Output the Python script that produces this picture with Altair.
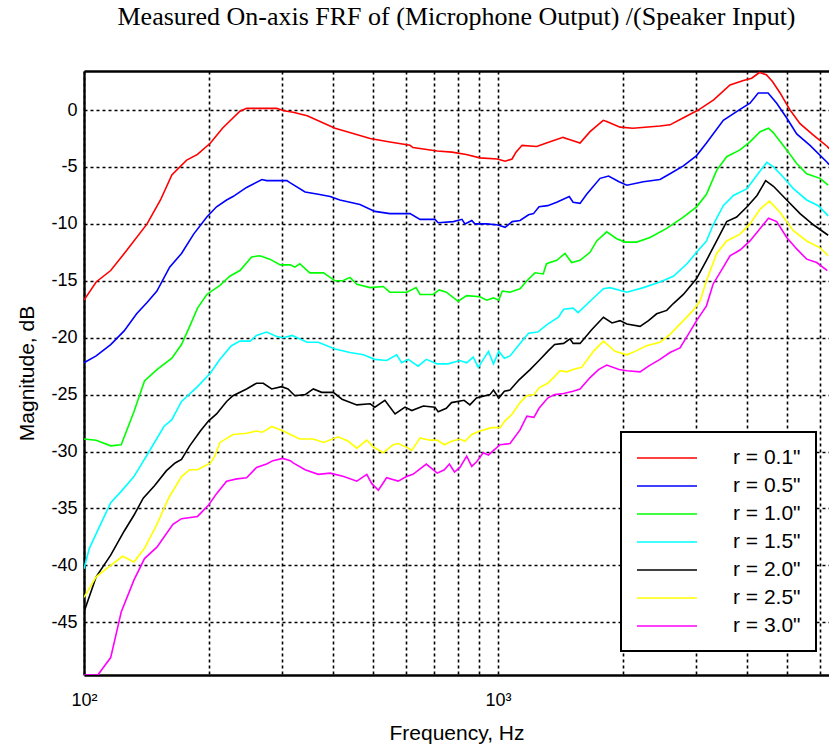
import altair as alt
import pandas as pd

labels = ['r = 0.1"', 'r = 0.5"', 'r = 1.0"', 'r = 1.5"', 'r = 2.0"', 'r = 2.5"', 'r = 3.0"']
colors = ["#ff0000", "#0000ff", "#00ff00", "#00ffff", "#000000", "#ffff00", "#ff00ff"]

x_ticks = [100, 200, 300, 400, 500, 600, 700, 800, 900, 1000, 2000, 3000, 4000, 5000, 6000]
y_ticks = [-45, -40, -35, -30, -25, -20, -15, -10, -5, 0]
x_range = [100, 6300]
y_range = [-49.63, 3.43]

freq_01 = [100, 107, 116, 127, 142, 153, 163, 177, 188, 202, 216, 238, 247, 292, 304, 320, 346, 404, 432, 491,
           548, 613, 623, 713, 774, 838, 904, 996, 1040, 1081, 1105, 1143, 1240, 1309, 1435, 1492, 1578, 1668, 1795, 1830,
           1971, 2118, 2461, 2602, 2797, 3044, 3317, 3633, 3914, 4098, 4280, 4446, 4600, 4800, 5073, 5363, 5776, 6241, 6302]
db_01 = [-16.7, -15.1, -14.1, -12.3, -10.0, -7.9, -5.7, -4.4, -3.9, -2.9, -1.6, -0.1, 0.15, 0.15, -0.06, -0.2, -0.5, -1.6, -1.9, -2.5,
         -2.8, -3.1, -3.3, -3.6, -3.7, -3.9, -4.2, -4.3, -4.5, -4.3, -3.7, -3.1, -3.2, -2.9, -2.4, -2.6, -2.9, -1.9, -0.9, -1.0,
         -1.5, -1.6, -1.4, -1.3, -0.7, 0.0, 0.9, 2.2, 2.6, 2.8, 3.3, 3.1, 2.5, 1.5, 0.0, -1.2, -2.2, -3.2, -3.4]

freq_05 = [100, 107, 116, 125, 134, 142, 150, 161, 172, 184, 198, 209, 221, 229, 247, 269, 276, 309, 315, 342,
           368, 393, 415, 464, 504, 548, 613, 648, 704, 717, 780, 818, 832, 864, 879, 939, 1000, 1040, 1082, 1130,
           1185, 1218, 1256, 1318, 1386, 1486, 1518, 1578, 1637, 1764, 1849, 1960, 2047, 2244, 2461, 2602, 2803, 3017, 3187, 3500,
           3841, 4060, 4250, 4490, 4710, 4980, 5264, 5669, 6241, 6302]
db_05 = [-22.2, -21.6, -20.6, -19.4, -17.9, -16.9, -15.9, -13.8, -12.6, -10.9, -9.4, -8.5, -7.9, -7.6, -6.8, -6.1, -6.2, -6.2, -6.4, -7.2,
         -7.4, -7.6, -7.9, -8.3, -8.9, -9.1, -9.1, -9.6, -9.6, -9.9, -9.8, -9.6, -10.0, -9.7, -10.0, -10.0, -10.1, -10.3, -9.8, -9.7,
         -9.2, -9.1, -8.5, -8.4, -8.1, -7.6, -8.1, -8.2, -7.4, -6.0, -5.8, -6.3, -6.6, -6.3, -6.1, -5.6, -4.9, -4.0, -2.9, -0.9,
         0.06, 0.6, 1.5, 1.5, 0.6, -0.7, -2.1, -3.1, -4.6, -4.8]

freq_10 = [100, 107, 116, 123, 132, 140, 150, 163, 172, 180, 188, 198, 213, 225, 238, 254, 266, 281, 298, 315,
           323, 332, 351, 379, 404, 422, 439, 456, 491, 528, 548, 602, 634, 648, 697, 721, 750, 801, 840, 904,
           939, 975, 1004, 1024, 1069, 1130, 1174, 1228, 1286, 1309, 1386, 1451, 1506, 1578, 1668, 1731, 1830, 1935, 2027, 2163,
           2328, 2555, 2803, 3017, 3187, 3373, 3566, 3841, 4060, 4296, 4500, 4625, 4980, 5264, 5565, 5994, 6270]
db_10 = [-28.9, -29.0, -29.5, -29.4, -26.5, -23.8, -22.8, -21.8, -20.6, -19.0, -17.4, -16.2, -15.4, -14.6, -14.1, -12.9, -12.8, -13.1, -13.6, -13.6,
         -13.8, -13.5, -14.3, -14.3, -15.0, -15.0, -14.7, -15.3, -15.6, -15.5, -16.0, -16.0, -15.6, -16.2, -16.2, -15.8, -16.0, -16.8, -16.3, -16.4,
         -16.7, -16.5, -16.7, -15.9, -16.0, -15.7, -15.0, -14.3, -14.4, -13.5, -13.2, -12.6, -13.4, -13.2, -12.5, -11.5, -10.7, -11.3, -11.6, -11.6,
         -11.2, -10.4, -9.4, -8.5, -7.4, -5.3, -4.1, -3.5, -2.8, -1.9, -1.6, -2.0, -3.5, -4.7, -5.6, -6.0, -6.6]

freq_15 = [100, 103, 116, 123, 132, 142, 156, 163, 172, 188, 202, 213, 227, 238, 252, 261, 276, 292, 303, 318,
           346, 368, 404, 439, 473, 504, 538, 569, 585, 607, 641, 671, 713, 757, 809, 840, 871, 896, 948, 975,
           1004, 1036, 1069, 1130, 1185, 1247, 1318, 1399, 1440, 1518, 1561, 1668, 1797, 1864, 2047, 2244, 2461, 2651, 2860, 3017,
           3187, 3306, 3500, 3703, 3994, 4222, 4460, 4625, 4889, 5167, 5565, 5938, 6270]
db_15 = [-40.3, -38.5, -34.5, -33.5, -32.2, -30.3, -27.8, -27.2, -25.6, -24.3, -23.1, -21.9, -20.7, -20.3, -20.3, -19.8, -19.5, -19.9, -20.0, -19.8,
         -20.4, -20.4, -21.0, -21.3, -21.5, -21.9, -22.0, -21.5, -22.2, -21.9, -22.5, -21.9, -22.3, -22.3, -22.0, -22.2, -21.7, -22.6, -21.2, -22.3,
         -21.2, -21.8, -21.6, -20.5, -19.6, -19.5, -18.8, -18.2, -17.5, -17.4, -17.8, -16.8, -15.7, -15.6, -16.0, -15.6, -15.1, -14.6, -13.5, -12.5,
         -11.5, -10.1, -8.4, -7.5, -6.9, -5.7, -4.6, -5.0, -5.9, -6.9, -7.9, -8.4, -9.3]

freq_20 = [100, 107, 116, 125, 132, 139, 148, 158, 166, 172, 180, 191, 200, 209, 221, 229, 247, 261, 271, 284,
           300, 311, 323, 342, 358, 375, 400, 420, 456, 491, 504, 533, 564, 596, 619, 660, 704, 717, 750, 772,
           828, 855, 887, 956, 975, 1004, 1036, 1069, 1124, 1195, 1256, 1318, 1370, 1440, 1492, 1518, 1578, 1683, 1797, 1885,
           1971, 2047, 2203, 2309, 2416, 2555, 2651, 2803, 3017, 3187, 3373, 3566, 3770, 3994, 4222, 4430, 4625, 4980, 5363, 5786,
           6270]
db_20 = [-44.1, -41.0, -39.1, -37.0, -35.6, -34.1, -33.0, -31.7, -31.0, -30.7, -29.5, -28.2, -27.3, -26.7, -25.6, -25.1, -24.5, -24.0, -24.0, -24.5,
         -24.3, -24.5, -25.1, -25.0, -24.5, -24.8, -24.8, -25.4, -25.9, -25.8, -26.1, -25.5, -26.7, -26.1, -26.4, -26.0, -26.1, -26.5, -26.2, -25.7,
         -25.5, -25.9, -25.3, -25.0, -24.6, -25.3, -24.7, -24.6, -23.7, -22.8, -22.0, -21.2, -20.6, -20.5, -20.1, -20.5, -20.5, -19.3, -18.2, -18.7,
         -18.5, -18.8, -19.0, -18.5, -17.9, -17.6, -17.0, -16.2, -14.8, -13.2, -11.5, -9.8, -9.4, -8.5, -7.5, -6.2, -6.7, -7.9, -9.1, -10.1,
         -11.0]

freq_25 = [100, 107, 116, 124, 132, 140, 150, 160, 172, 180, 188, 202, 207, 213, 229, 247, 261, 269, 276, 284,
           303, 315, 332, 358, 379, 411, 435, 456, 482, 500, 528, 558, 574, 607, 619, 648, 685, 713, 742, 772,
           809, 832, 864, 904, 965, 1011, 1040, 1082, 1130, 1174, 1221, 1256, 1318, 1370, 1412, 1467, 1518, 1592, 1700, 1797,
           1917, 2047, 2142, 2284, 2461, 2602, 2803, 2958, 3074, 3187, 3373, 3566, 3841, 4060, 4296, 4525, 4800, 5167, 5565, 5994,
           6270]
db_25 = [-42.8, -41.0, -40.0, -39.2, -39.7, -38.5, -36.4, -34.1, -32.2, -31.6, -31.6, -31.0, -30.4, -29.2, -28.5, -28.4, -28.2, -28.3, -28.1, -27.8,
         -28.2, -28.5, -28.9, -28.9, -29.2, -28.7, -29.1, -29.7, -29.0, -29.6, -30.1, -29.4, -29.3, -29.7, -29.9, -28.8, -29.0, -29.0, -29.4, -29.1,
         -28.9, -29.1, -28.5, -28.2, -27.9, -27.9, -27.3, -26.7, -25.7, -25.1, -25.0, -24.4, -24.0, -23.4, -22.9, -23.0, -22.8, -22.6, -21.2, -20.3,
         -21.2, -21.5, -21.2, -20.7, -20.4, -19.7, -18.5, -17.6, -16.8, -15.0, -12.6, -11.5, -10.9, -10.0, -8.7, -8.0, -9.0, -10.6, -11.5, -12.1,
         -12.8]

freq_30 = [100, 108, 116, 123, 132, 140, 150, 164, 172, 188, 200, 209, 221, 234, 247, 261, 276, 286, 302, 315,
           320, 342, 368, 393, 424, 456, 482, 495, 514, 538, 574, 601, 623, 671, 713, 742, 763, 785, 809, 840,
           864, 888, 921, 948, 1011, 1069, 1130, 1174, 1221, 1256, 1318, 1370, 1440, 1518, 1578, 1668, 1749, 1830, 1960, 2047,
           2203, 2309, 2461, 2602, 2751, 2881, 3017, 3187, 3306, 3500, 3633, 3841, 4060, 4296, 4500, 4710, 4980, 5264, 5565, 5885,
           6241]
db_30 = [-49.63, -49.63, -48.1, -44.1, -41.3, -39.4, -38.4, -36.4, -35.9, -35.7, -34.7, -33.7, -32.6, -32.4, -32.3, -31.4, -31.1, -30.8, -30.6, -30.8,
         -31.0, -31.6, -32.0, -31.9, -32.2, -32.6, -32.0, -32.8, -33.4, -32.3, -32.6, -32.2, -32.0, -31.1, -31.9, -31.6, -31.1, -31.8, -31.4, -30.4,
         -31.3, -30.9, -30.1, -30.3, -29.4, -29.3, -28.1, -26.9, -27.0, -26.2, -25.3, -25.0, -24.9, -24.7, -24.5, -23.5, -22.8, -22.4, -22.8, -22.9,
         -23.0, -22.5, -21.9, -21.3, -20.9, -19.7, -18.5, -17.2, -15.3, -13.8, -12.8, -12.3, -11.5, -10.4, -9.5, -9.8, -11.2, -12.2, -13.1, -13.4,
         -14.1]

series_freqs = [freq_01, freq_05, freq_10, freq_15, freq_20, freq_25, freq_30]
series_dbs = [db_01, db_05, db_10, db_15, db_20, db_25, db_30]

rows = []
for k, (lab, fs, ds) in enumerate(zip(labels, series_freqs, series_dbs)):
    for i, (f, d) in enumerate(zip(fs, ds, strict=True)):
        rows.append({"series": lab, "order": k, "idx": i, "freq": f, "db": d})
df = pd.DataFrame(rows)

SANS = "Liberation Sans"
xscale = alt.Scale(type="log", domain=x_range, nice=False)
yscale = alt.Scale(domain=y_range, nice=False, zero=False)

y_axis = alt.Axis(
    values=y_ticks, labelExpr="datum.value + ''", labelFlush=False,
    title="Magnitude, dB",
    grid=True, gridColor="black", gridDash=[3, 3], gridWidth=1.6, gridOpacity=1,
    domain=True, domainColor="black", domainWidth=2.4, ticks=False,
    labelFont=SANS, labelFontSize=18, labelColor="black", labelPadding=7,
    titleFont=SANS, titleFontSize=21, titleFontWeight="normal", titleColor="black", titlePadding=13)

lines = alt.Chart(df).mark_line(strokeWidth=1.6, clip=True).encode(
    x=alt.X("freq:Q", scale=xscale, axis=alt.Axis(
        values=x_ticks,
        labelExpr="datum.value == 100 ? '10²' : (datum.value == 1000 ? '10³' : '')",
        labelOverlap=False, labelFlush=False,
        title="Frequency, Hz",
        grid=True, gridColor="black", gridDash=[3, 3], gridWidth=1.6, gridOpacity=1,
        domain=True, domainColor="black", domainWidth=2.4, ticks=False,
        labelFont=SANS, labelFontSize=18, labelColor="black", labelPadding=16,
        titleFont=SANS, titleFontSize=21, titleFontWeight="normal", titleColor="black", titlePadding=13)),
    y=alt.Y("db:Q", scale=yscale, axis=y_axis),
    color=alt.Color("series:N", scale=alt.Scale(domain=labels, range=colors), legend=alt.Legend(
        title=None, orient="none", legendX=537, legendY=361, direction="vertical",
        symbolType="M-1,0H5", symbolSize=400, symbolStrokeWidth=1.6,
        labelFont=SANS, labelFontSize=21, labelColor="black", labelOffset=75, labelLimit=300,
        rowPadding=7, padding=15, strokeColor="black", fillColor="white")),
    order=alt.Order("idx:Q"),
)

frame_top = alt.Chart(df).mark_line(opacity=0).encode(
    x=alt.X("freq:Q", scale=xscale, axis=alt.Axis(
        orient="top", labels=False, ticks=False, grid=False, title=None,
        domain=True, domainColor="black", domainWidth=2.4)),
    y=alt.Y("db:Q", scale=yscale, axis=y_axis),
    detail="series:N",
)

chart = alt.layer(lines, frame_top).resolve_axis(x="independent").properties(
    width=745, height=604,
    title=alt.TitleParams(
        text="Measured On-axis FRF of (Microphone Output) /(Speaker Input)",
        font="Liberation Serif", fontSize=26, fontWeight="normal", color="black",
        anchor="middle", baseline="alphabetic", offset=20),
    autosize=alt.AutoSizeParams(type="none"),
    padding={"left": 84, "top": 71, "right": 0, "bottom": 69},
).configure_view(strokeWidth=0).configure_legend(strokeWidth=2)

chart.save("out.html", embed_options={"renderer": "svg", "actions": False})
